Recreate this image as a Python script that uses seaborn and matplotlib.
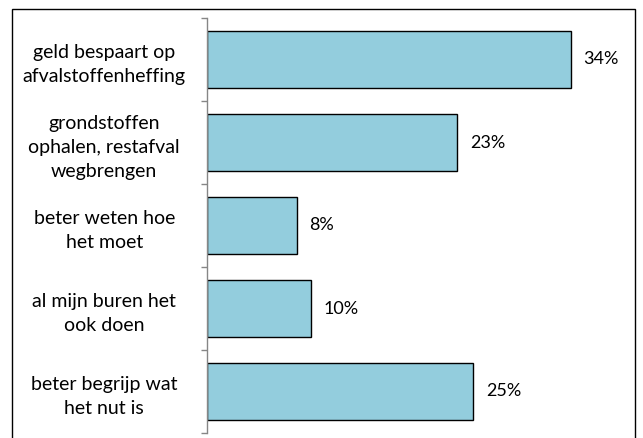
import seaborn as sns
import matplotlib.pyplot as plt
import pandas as pd
from matplotlib.patches import Rectangle

# data
categories = [
    "geld bespaart op\nafvalstoffenheffing",
    "grondstoffen\nophalen, restafval\nwegbrengen",
    "beter weten hoe\nhet moet",
    "al mijn buren het\nook doen",
    "beter begrijp wat\nhet nut is",
]
values = [34.0, 23.4, 8.4, 9.7, 24.9]
value_labels = ["34%", "23%", "8%", "10%", "25%"]


def plot_chart():
    df = pd.DataFrame({"reden": categories, "pct": values})

    sns.set_style("white")
    plt.rcParams['font.family'] = ['Lato', 'DejaVu Sans']

    fig = plt.figure(figsize=(6.43, 4.38), dpi=100)
    ax = fig.add_axes([207 / 643, 5 / 438, 428 / 643, 415 / 438])

    sns.barplot(data=df, x="pct", y="reden", orient="h", color="#93CDDD",
                saturation=1, width=0.675, edgecolor="black", linewidth=1, ax=ax)

    ax.bar_label(ax.containers[0], labels=value_labels, padding=9, fontsize=13,
                 color="black")

    ax.set_xlim(0, 40)
    ax.set_ylim(4.5, -0.5)
    ax.set_xlabel("")
    ax.set_ylabel("")
    ax.set_xticks([])

    # y as: labels gecentreerd, tickstreepjes op de grenzen
    ax.tick_params(axis="y", which="major", length=0, pad=74, labelsize=14,
                   labelcolor="black")
    for lbl in ax.get_yticklabels():
        lbl.set_horizontalalignment("center")
        lbl.set_multialignment("center")
        lbl.set_linespacing(1.5)
    ax.set_yticks([i - 0.5 for i in range(len(categories) + 1)], minor=True)
    ax.tick_params(axis="y", which="minor", length=4.5, width=1, color="#868686", left=True)

    for side in ["top", "right", "bottom"]:
        ax.spines[side].set_visible(False)
    ax.spines["left"].set_color("#868686")
    ax.spines["left"].set_linewidth(1)

    # kader om de figuur
    fig.patches.append(Rectangle((12 / 643, -0.05), 623 / 643, 1 - 9 / 438 + 0.05,
                                 transform=fig.transFigure, fill=False,
                                 edgecolor="black", linewidth=1))

    fig.savefig("out.png", dpi=100)


if __name__ == '__main__':
    plot_chart()
